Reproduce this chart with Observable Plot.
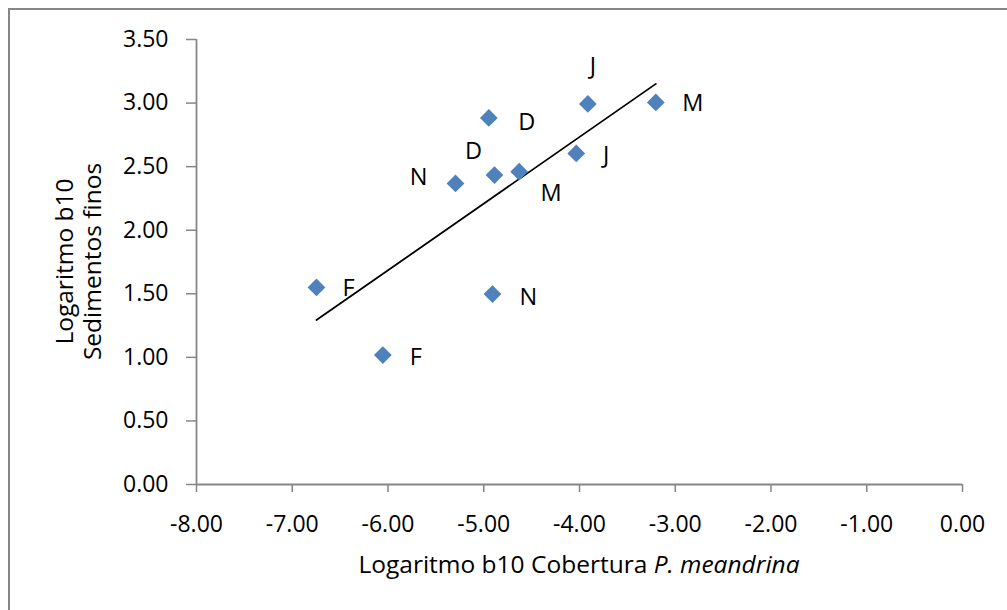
<!DOCTYPE html>
<html>
<head>
<meta charset="utf-8">
<script src="https://cdn.jsdelivr.net/npm/d3@7"></script>
<script src="https://cdn.jsdelivr.net/npm/@observablehq/plot@0.6"></script>
<style>
  html, body { margin: 0; padding: 0; background: #fff; }
  #chart { width: 1007px; height: 610px; overflow: hidden; }
</style>
</head>
<body>
<div id="chart"></div>
<script>
// Data
const months = ["F", "F", "N", "D", "D", "M", "J", "J", "M", "N"];
const logCover = [-6.747, -6.054, -5.295, -4.947, -4.888, -4.630, -4.034, -3.913, -3.203, -4.909];
const logSediment = [1.550, 1.018, 2.368, 2.883, 2.434, 2.460, 2.604, 2.993, 3.005, 1.498];
// label placement offsets (pixels), styling only
const labelDx = [32, 33, -37, 38, -21, 32, 30, 5, 37, 36];
const labelDy = [1, 2, -6, 5, -24, 22, 2, -37, 1, 3];
const xTicks = [-8, -7, -6, -5, -4, -3, -2, -1, 0];
const yTicks = [0, 0.5, 1, 1.5, 2, 2.5, 3, 3.5];
const xLabelMain = "Logaritmo b10 Cobertura ";
const xLabelItalic = "P. meandrina";
const yLabelLines = ["Logaritmo b10", "Sedimentos finos"];

const data = months.map((m, i) => ({ month: m, x: logCover[i], y: logSediment[i], dx: labelDx[i], dy: labelDy[i] }));

const axisColor = "#868686";
const fmt = d => d.toFixed(2);

const W = 1007, H = 610;
const mL = 196, mR = 45, mT = 39, mB = 126;

const plot = Plot.plot({
  width: W,
  height: H,
  marginLeft: mL,
  marginRight: mR,
  marginTop: mT,
  marginBottom: mB,
  style: { fontFamily: "'Open Sans', sans-serif", fontSize: "23px", color: "#000", background: "#fff", overflow: "visible" },
  x: { domain: [-8, 0] },
  y: { domain: [0, 3.5] },
  marks: [
    Plot.axisX({ ticks: xTicks, tickFormat: fmt, tickSize: 8, tickPadding: 23, stroke: axisColor, strokeWidth: 1.5, fill: "#000", label: null }),
    Plot.axisY({ ticks: yTicks, tickFormat: fmt, tickSize: 10, tickPadding: 18, stroke: axisColor, strokeWidth: 1.5, fill: "#000", label: null }),
    Plot.ruleY([0], { stroke: axisColor, strokeWidth: 1.8 }),
    Plot.ruleX([-8], { stroke: axisColor, strokeWidth: 1.8 }),
    Plot.linearRegressionY(data, { x: "x", y: "y", stroke: "#000", strokeWidth: 1.8, ci: 0 }),
    Plot.dot(data, { x: "x", y: "y", symbol: "diamond2", r: 8, fill: "#4F81BD", stroke: "none" }),
    ...data.map(d => Plot.text([d], { x: "x", y: "y", text: "month", dx: d.dx, dy: d.dy, fill: "#000", fontSize: 23.5 }))
  ]
});

document.getElementById("chart").appendChild(plot);

const svg = d3.select(plot);
// outer chart frame (top and left edges visible)
svg.append("rect")
  .attr("x", 9).attr("y", 9)
  .attr("width", W + 20).attr("height", H + 20)
  .attr("fill", "none").attr("stroke", axisColor).attr("stroke-width", 2);

// x axis title with italic species name
const xt = svg.append("text")
  .attr("x", mL + (W - mL - mR) / 2)
  .attr("y", 573)
  .attr("text-anchor", "middle")
  .attr("fill", "#000")
  .style("font-size", "24.5px");
xt.append("tspan").text(xLabelMain);
xt.append("tspan").attr("font-style", "italic").text(xLabelItalic);

// y axis title, two lines, rotated
const cy = mT + (H - mT - mB) / 2;
yLabelLines.forEach((line, i) => {
  svg.append("text")
    .attr("transform", `translate(${73 + i * 28},${cy}) rotate(-90)`)
    .attr("text-anchor", "middle")
    .attr("fill", "#000")
    .style("font-size", "24.5px")
    .text(line);
});
</script>
</body>
</html>
